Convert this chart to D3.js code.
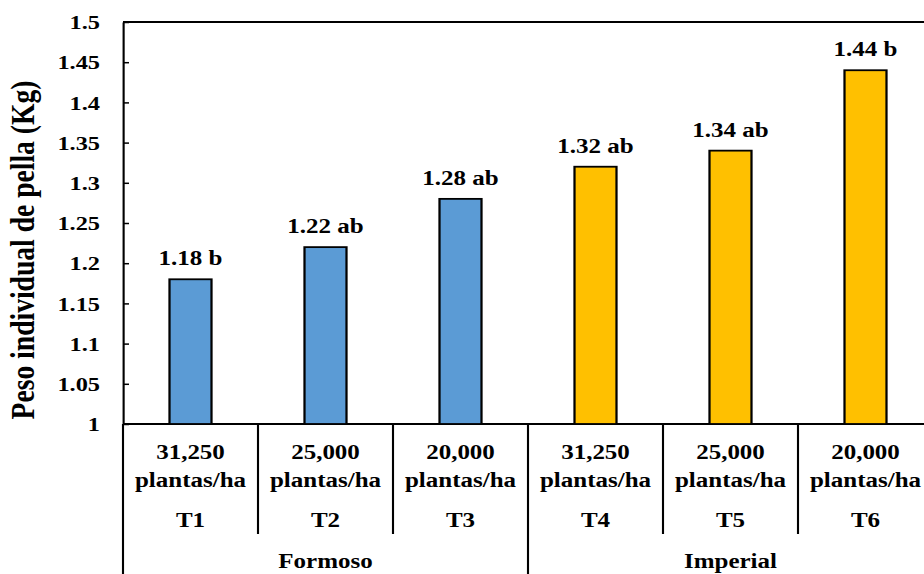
<!DOCTYPE html>
<html>
<head>
<meta charset="utf-8">
<script src="https://cdn.jsdelivr.net/npm/d3@7/dist/d3.min.js"></script>
<style>
  html, body { margin: 0; padding: 0; background: #fff; overflow: hidden; }
  text { font-family: "Liberation Serif", "Times New Roman", serif; font-weight: bold; fill: #000; }
</style>
</head>
<body>
<div id="chart"></div>
<script>
// ---- data ----
const treatments = ["T1", "T2", "T3", "T4", "T5", "T6"];
const densities = ["31,250", "25,000", "20,000", "31,250", "25,000", "20,000"];
const densityUnit = "plantas/ha";
const varieties = ["Formoso", "Imperial"];
const varietyOf = ["Formoso", "Formoso", "Formoso", "Imperial", "Imperial", "Imperial"];
const values = [1.18, 1.22, 1.28, 1.32, 1.34, 1.44];
const letters = ["b", "ab", "ab", "ab", "ab", "b"];
const yTicks = [1, 1.05, 1.1, 1.15, 1.2, 1.25, 1.3, 1.35, 1.4, 1.45, 1.5];
const yTitle = "Peso individual de pella (Kg)";
const colors = { "Formoso": "#5B9BD5", "Imperial": "#FFC000" };

// ---- layout (horizontal stretch emulated with a viewBox) ----
const W = 924, H = 574, SX = 1.25;
const VW = W / SX;
const plotLeft = 123 / SX, catW = 135 / SX;
const plotTop = 22, plotBottom = 424;

const svg = d3.select("#chart").append("svg")
  .attr("width", W).attr("height", H)
  .attr("viewBox", `0 0 ${VW} ${H}`)
  .attr("preserveAspectRatio", "none")
  .style("display", "block");

const x = d3.scaleBand().domain(treatments).range([plotLeft, plotLeft + catW * treatments.length]).padding(0);
const y = d3.scaleLinear().domain([1, 1.5]).range([plotBottom, plotTop]);
const barW = 42 / SX;

// frame lines
svg.append("line").attr("x1", plotLeft).attr("x2", VW + 10).attr("y1", y(1.5)).attr("y2", y(1.5))
  .attr("stroke", "#000").attr("stroke-width", 2);
svg.append("line").attr("x1", plotLeft).attr("x2", VW + 10).attr("y1", y(1)).attr("y2", y(1))
  .attr("stroke", "#000").attr("stroke-width", 2);

// bars
svg.selectAll("rect.bar").data(treatments).enter().append("rect")
  .attr("class", "bar")
  .attr("x", (d) => x(d) + (x.bandwidth() - barW) / 2)
  .attr("width", barW)
  .attr("y", (d, i) => y(values[i]))
  .attr("height", (d, i) => y(1) - y(values[i]))
  .attr("fill", (d, i) => colors[varietyOf[i]])
  .attr("stroke", "#000").attr("stroke-width", 1.8);

// bar labels
svg.selectAll("text.val").data(treatments).enter().append("text")
  .attr("class", "val")
  .attr("x", (d) => x(d) + x.bandwidth() / 2)
  .attr("y", (d, i) => y(values[i]) - 14)
  .attr("text-anchor", "middle")
  .attr("font-size", 20)
  .text((d, i) => values[i].toFixed(2) + " " + letters[i]);

// y axis
const yAxis = d3.axisLeft(y).tickValues(yTicks)
  .tickFormat((d) => String(+d.toFixed(2)))
  .tickSizeInner(-6 / SX).tickSizeOuter(0).tickPadding(23 / SX);
const ga = svg.append("g").attr("transform", `translate(${plotLeft},0)`).call(yAxis);
ga.select(".domain").attr("stroke", "#000").attr("stroke-width", 1.7);
ga.selectAll(".tick line").attr("stroke", "#000").attr("stroke-width", 1.5);
ga.selectAll(".tick text").attr("font-size", 19.5)
  .style("font-family", '"Liberation Serif", "Times New Roman", serif').style("font-weight", "bold")
  .attr("dy", "0.34em");
// extend axis line down to bottom of chart
svg.append("line").attr("x1", plotLeft).attr("x2", plotLeft).attr("y1", plotBottom).attr("y2", H)
  .attr("stroke", "#000").attr("stroke-width", 1.7);

// y title
svg.append("text")
  .attr("transform", `translate(${33.5 / SX},250) rotate(-90)`)
  .attr("text-anchor", "middle")
  .attr("font-size", 27.6)
  .text(yTitle);

// category dividers
const bounds = treatments.map((d) => x(d)).concat([x(treatments[5]) + x.bandwidth()]);
bounds.forEach((bx, i) => {
  if (i === 0) return;
  const full = (i % 3 === 0);
  svg.append("line").attr("x1", bx).attr("x2", bx).attr("y1", plotBottom).attr("y2", full ? H : 534)
    .attr("stroke", "#000").attr("stroke-width", 1.7);
});

// category labels
const cat = svg.selectAll("g.cat").data(treatments).enter().append("g").attr("class", "cat")
  .attr("transform", (d) => `translate(${x(d) + x.bandwidth() / 2},0)`);
cat.append("text").attr("y", 459).attr("text-anchor", "middle").attr("font-size", 20)
  .text((d, i) => densities[i]);
cat.append("text").attr("y", 487).attr("text-anchor", "middle").attr("font-size", 20)
  .text(densityUnit);
cat.append("text").attr("y", 527).attr("text-anchor", "middle").attr("font-size", 20)
  .text((d) => d);

// variety labels
svg.selectAll("text.var").data(varieties).enter().append("text")
  .attr("class", "var")
  .attr("x", (v) => {
    const idx = varietyOf.map((d, i) => (d === v ? i : -1)).filter((i) => i >= 0);
    return (x(treatments[idx[0]]) + x(treatments[idx[idx.length - 1]]) + x.bandwidth()) / 2;
  })
  .attr("y", 568).attr("text-anchor", "middle").attr("font-size", 20)
  .text((v) => v);
</script>
</body>
</html>
